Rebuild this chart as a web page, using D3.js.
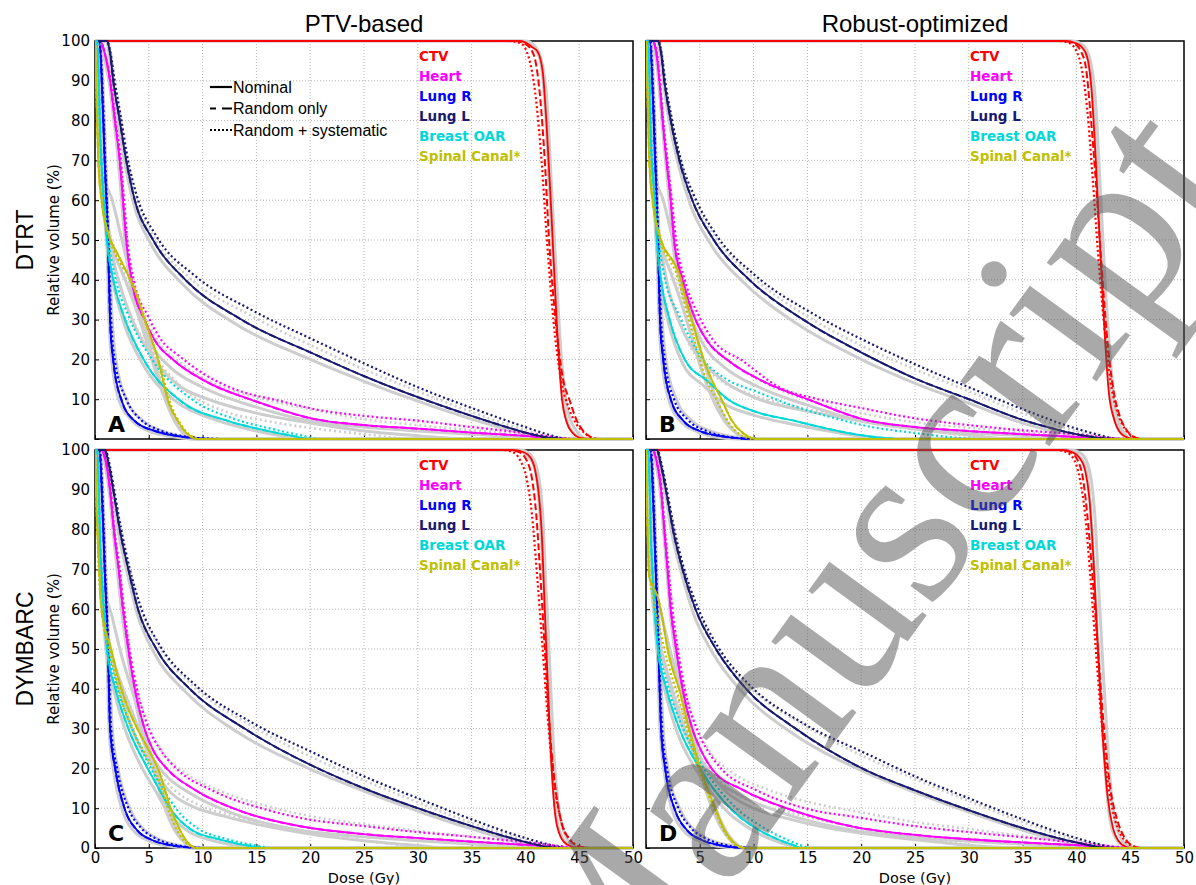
<!DOCTYPE html>
<meta charset="utf-8">
<style>
body { margin: 0; background: #fff; }
text { font-family: "DejaVu Sans", sans-serif; }
.grid line { stroke: #b4b4b4; stroke-dasharray: 1,2; }
.axis path { display: none; }
.axis line { stroke: #000; }
.axis text { font-size: 15px; fill: #000; }
</style>
<svg width="1196" height="885"></svg>
<script src="https://d3js.org/d3.v7.min.js"></script>
<script>

var structures = ["CTV", "Heart", "Lung R", "Lung L", "Breast OAR", "Spinal Canal*"];
var structColors = ["#ff0000", "#ff00ff", "#0000ff", "#191970", "#00d8d8", "#c0c000"];
var xTicks = [0, 5, 10, 15, 20, 25, 30, 35, 40, 45, 50];
var yTicks = [0, 10, 20, 30, 40, 50, 60, 70, 80, 90, 100];
var scenarioLabels = ["Nominal", "Random only", "Random + systematic"];
var colTitles = ["PTV-based", "Robust-optimized"];
var rowTitles = ["DTRT", "DYMBARC"];
var panelLetters = ["A", "B", "C", "D"];

// rows: [structure, kind, [[dose, volume], ...]]
// kind: nom = nominal, rnd = random only, sys = random + systematic, g / gd = scenario (grey)
var dvhA = [
  ["CTV", "nom", [[0,100],[39.5,100],[40.1,99.5],[40.6,98.5],[41.1,97.5],[41.6,92.5],[42.0,77.5],[42.4,57.5],[42.9,30],[43.4,10],[43.8,4.5],[44.4,1.5],[45.2,0.2],[46,0]]],
  ["CTV", "rnd", [[0,100],[39,100],[39.8,99.5],[40.5,98],[41.0,94],[41.4,85],[41.8,70],[42.2,50],[42.8,30],[43.5,15],[44.1,9.8],[44.8,4.5],[45.3,2.3],[46.2,0.4],[47,0]]],
  ["CTV", "sys", [[0,100],[38.5,100],[39.5,99.5],[40.1,97.5],[40.6,92.5],[41.0,85],[41.5,70],[42.0,50],[42.6,30],[43.3,15],[44.0,8],[44.8,3.5],[45.5,1.5],[46.5,0]]],
  ["CTV", "g", [[0,100],[39.5,100],[40.5,99],[41.3,96],[41.8,85],[42.2,65],[42.6,45],[43.1,22],[43.6,8],[44.3,2],[45.5,0]]],
  ["CTV", "g", [[0,100],[40,100],[40.8,99],[41.5,95],[42,85],[42.4,65],[42.8,45],[43.3,22],[43.8,9],[44.5,3],[45.8,0]]],
  ["Heart", "nom", [[0,100],[0.5,100],[0.9,97],[1.4,90],[1.85,80],[2.3,70],[2.6,60],[2.9,50],[3.4,40],[4.6,30],[5.6,24.6],[7.4,19.6],[10.2,14.6],[14.9,9.5],[20.4,5],[25,3.5],[30,2.6],[35,1.6],[40,0.8],[44,0]]],
  ["Heart", "sys", [[0,100],[0.5,100],[0.9,97],[1.45,90],[1.9,80],[2.4,70],[2.7,60],[3.0,50],[3.6,40],[4.9,31],[6.0,25.5],[8,20.5],[10.2,16.2],[13,12.5],[17.3,9.5],[20.4,7.5],[25,5.8],[30,4.6],[35,3],[40,1.5],[45,0]]],
  ["Heart", "g", [[0,100],[0.5,100],[0.85,96],[1.35,89],[1.8,79],[2.2,69],[2.5,59],[2.8,49],[3.3,39],[4.4,29],[5.4,23],[7,18],[10,13],[15,8],[20,4.5],[25,3],[30,2],[35,1.2],[40,0.5],[43,0]]],
  ["Heart", "gd", [[0,100],[0.5,100],[0.9,97],[1.45,90],[1.9,80],[2.4,70],[2.7,60],[3.0,50],[3.5,40],[4.8,30],[6,24],[8,19],[11,14],[15,10.5],[20,7.5],[25,5],[30,3.5],[35,2.2],[40,1],[45,0]]],
  ["Lung R", "nom", [[0,100],[0.4,100],[0.7,85],[0.9,70],[1.2,50],[1.4,30],[1.7,19.6],[2.5,9.5],[3.7,4.5],[5.6,2],[7.5,0.8],[9.3,0.2],[11,0]]],
  ["Lung R", "sys", [[0,100],[0.4,100],[0.75,85],[0.95,70],[1.25,50],[1.5,30],[1.85,19.6],[2.9,10],[4.2,5],[6,2.2],[8,0.8],[10,0.2],[12,0]]],
  ["Lung R", "g", [[0,100],[0.35,100],[0.65,85],[0.85,70],[1.1,50],[1.3,30],[1.55,20],[2.2,10],[3.3,5],[5,2],[7,0.7],[9,0]]],
  ["Lung R", "g", [[0,100],[0.45,100],[0.8,85],[1,70],[1.3,50],[1.6,30],[2,19],[3,9.5],[4.5,4.5],[6.5,1.8],[8.5,0.5],[10.5,0]]],
  ["Lung L", "nom", [[0,100],[1.1,100],[1.4,97],[1.7,90],[2.3,80],[2.9,70],[3.7,60],[5.4,50],[8.4,40],[13.6,30],[20.4,21.3],[25,15.8],[30,10.5],[35,5.8],[38,3.2],[40,1.6],[42,0.4],[44,0]]],
  ["Lung L", "sys", [[0,100],[1.1,100],[1.45,97],[1.8,90.5],[2.4,81],[3.0,71],[3.9,61],[5.7,51],[9.3,41],[14.5,32.5],[20.4,24.8],[25,19],[30,13],[35,7.8],[40,3],[42,1.2],[44,0]]],
  ["Lung L", "g", [[0,100],[1,100],[1.35,96],[1.65,89],[2.2,79],[2.8,69],[3.6,59],[5.2,49],[8.1,39],[13,29],[20,20],[25,14.5],[30,9.5],[35,5],[40,1.2],[42,0]]],
  ["Lung L", "gd", [[0,100],[1.1,100],[1.5,96.5],[1.8,90],[2.4,80.5],[3,70.5],[3.8,60.5],[5.5,50.5],[8.8,40.5],[14.5,31],[20.5,23],[25,17.5],[30,12],[35,6.8],[40,2.2],[43,0]]],
  ["Breast OAR", "nom", [[0,100],[0.2,100],[0.5,75],[0.8,60],[1.1,50],[1.7,40],[2.8,30],[4.6,19.6],[8.0,9.5],[12.4,4.5],[16.1,2],[18.5,0.7],[20,0]]],
  ["Breast OAR", "sys", [[0,100],[0.2,100],[0.5,76],[0.85,61],[1.2,51],[1.85,41],[3.1,31],[5.3,20],[9,10],[13,5],[16.5,2.5],[19,1],[21,0]]],
  ["Breast OAR", "g", [[0,100],[0.2,100],[0.5,74],[0.8,59],[1.1,49],[1.7,39],[2.7,29],[4.4,19],[7.5,9.5],[11,5],[15,2],[18,0.5],[19.5,0]]],
  ["Breast OAR", "g", [[0,100],[0.25,100],[0.6,74],[1,60],[1.5,48],[2.4,38],[3.6,29],[5.5,20],[8,13],[10,10.5],[15,6.5],[20,4],[25,2],[30,0.8],[35,0]]],
  ["Breast OAR", "gd", [[0,100],[0.25,100],[0.6,75],[1,60],[1.5,49],[2.3,39],[3.5,30],[5.5,21],[8.5,12],[12,7],[16,4.5],[20,2.8],[25,1.2],[30,0]]],
  ["Spinal Canal*", "nom", [[0,100],[0.15,85],[0.3,70],[0.6,60],[1.2,52],[2.2,46],[3.1,41],[3.9,36],[4.6,30],[5.9,19.6],[6.8,9.5],[7.7,4.5],[8.4,1.8],[9,0.4],[9.5,0]]],
  ["Spinal Canal*", "sys", [[0,100],[0.15,86],[0.35,70],[0.7,59],[1.4,50],[2.4,44],[3.4,40],[4.2,34],[4.9,28],[6.1,18],[7,9],[7.9,4],[8.6,1.5],[9.3,0.3],[9.8,0]]],
  ["Spinal Canal*", "g", [[0,100],[0.3,100],[0.6,80],[0.9,66],[1.6,60],[2.5,50],[3.2,42],[4,33],[5,24],[6,15],[7,7],[8,2],[9,0]]],
  ["Spinal Canal*", "g", [[0,100],[0.2,90],[0.4,72],[0.8,58],[1.5,49],[2.5,42],[3.5,35],[4.5,27],[5.5,18],[6.5,10],[7.5,4],[8.5,1],[9.5,0]]],
  ["Spinal Canal*", "gd", [[0,100],[0.2,88],[0.4,70],[0.9,58],[1.8,48],[2.8,41],[3.6,36],[4.5,29],[5.5,21],[6.5,12],[7.5,5],[8.5,1.5],[9.5,0]]]
];

var dvhB = [
  ["CTV", "nom", [[0,100],[39,100],[39.9,99.5],[40.5,98.5],[41,96],[41.4,88],[41.8,70],[42.2,48],[42.6,28],[43,12],[43.5,5],[44.1,1.5],[44.8,0.3],[45.5,0]]],
  ["CTV", "rnd", [[0,100],[38.8,100],[39.7,99.5],[40.4,97.5],[40.9,93],[41.3,82],[41.8,65],[42.3,45],[42.8,27],[43.4,13],[44,6],[44.6,2.5],[45.3,0.6],[46.2,0]]],
  ["CTV", "sys", [[0,100],[38.3,100],[39.3,99.5],[40,97.5],[40.5,93],[41,83],[41.5,66],[42,47],[42.6,28],[43.2,14],[43.9,6],[44.6,2.2],[45.3,0.6],[46,0]]],
  ["CTV", "g", [[0,100],[39.3,100],[40.3,99],[41,96],[41.5,87],[41.9,68],[42.3,46],[42.7,26],[43.2,10],[43.8,3],[44.6,0.5],[45.3,0]]],
  ["CTV", "g", [[0,100],[39.6,100],[40.6,99],[41.3,95],[41.8,84],[42.2,64],[42.6,43],[43.1,22],[43.6,8],[44.3,2],[45.3,0]]],
  ["Heart", "nom", [[0,100],[0.6,100],[0.9,98],[1.25,90],[1.55,80],[1.9,70],[2.3,60],[2.6,50],[3.4,40],[4.6,30],[5.7,24.6],[7.7,19.6],[10.8,14.6],[15.5,9.5],[20.1,5],[25,3],[30,2],[35,1.2],[40,0.5],[44,0]]],
  ["Heart", "sys", [[0,100],[0.6,100],[0.95,98],[1.3,90],[1.6,80],[2,70],[2.4,60],[2.8,50],[3.6,40],[4.9,31],[6.2,25],[9,19.6],[12.4,13],[16,10],[19.8,7.9],[25,5.2],[30,3.5],[35,2.2],[40,1.2],[45,0]]],
  ["Heart", "g", [[0,100],[0.55,100],[0.85,97],[1.2,89],[1.5,79],[1.85,69],[2.2,59],[2.5,49],[3.2,39],[4.4,29],[5.5,23],[7.3,18],[10.5,13],[15,8.5],[20,4.5],[25,2.6],[30,1.6],[35,0.9],[40,0.3],[43,0]]],
  ["Heart", "gd", [[0,100],[0.6,100],[0.95,97.5],[1.3,89.5],[1.6,79.5],[2,69.5],[2.4,59.5],[2.7,49.5],[3.5,39.5],[4.8,30],[6,24],[8.3,18.5],[11.5,13.5],[16,9],[20,6.5],[25,4.2],[30,2.8],[35,1.7],[40,0.8],[44,0]]],
  ["Lung R", "nom", [[0,100],[0.35,100],[0.65,85],[0.85,70],[1.1,50],[1.3,30],[1.6,20],[2.3,10],[3.5,4.5],[5,2],[7,0.7],[9,0.1],[10,0]]],
  ["Lung R", "sys", [[0,100],[0.4,100],[0.7,85],[0.9,70],[1.15,50],[1.4,30],[1.75,20],[2.6,10],[3.9,4.8],[5.6,2],[7.5,0.6],[9.5,0.1],[10.5,0]]],
  ["Lung R", "g", [[0,100],[0.3,100],[0.6,85],[0.8,70],[1.0,50],[1.2,30],[1.45,20],[2.1,10],[3.2,4.5],[4.8,1.8],[6.5,0.5],[8.5,0]]],
  ["Lung R", "g", [[0,100],[0.45,100],[0.75,85],[0.95,70],[1.2,50],[1.5,30],[1.9,19],[2.9,9.5],[4.3,4.5],[6.2,1.8],[8.2,0.5],[10,0]]],
  ["Lung L", "nom", [[0,100],[1.1,100],[1.4,97],[1.7,90],[2.3,80],[3.1,70],[4.3,60],[6.3,50],[9.6,40],[14.6,30],[20.4,21.2],[25,15.2],[30,10],[35,4.8],[38,2.5],[40,1.2],[42,0.3],[44,0]]],
  ["Lung L", "sys", [[0,100],[1.15,100],[1.45,97],[1.75,90.5],[2.4,80.5],[3.2,70.5],[4.5,61],[6.6,51],[10.2,41],[15.5,31.5],[20.4,24.6],[25,18.8],[30,13],[35,7.5],[40,2.6],[42,1.1],[44,0]]],
  ["Lung L", "g", [[0,100],[1,100],[1.35,96],[1.65,89],[2.2,79],[3,69],[4.1,59],[6,49],[9.2,39],[14,29],[20,20],[25,14],[30,9],[35,4],[40,0.8],[42,0]]],
  ["Lung L", "gd", [[0,100],[1.1,100],[1.5,96.5],[1.8,90],[2.4,80],[3.2,70],[4.4,60.5],[6.5,50.5],[10,40.5],[15.2,30.5],[20.4,23],[25,17.5],[30,12],[35,6.5],[40,2],[43,0]]],
  ["Breast OAR", "nom", [[0,100],[0.2,100],[0.45,75],[0.8,60],[1.0,50],[1.4,40],[2.2,30],[3.6,20],[5.7,14.6],[7.7,9.8],[10,7],[13.9,4.5],[17,2.5],[19.2,1.3],[22,0.3],[24,0]]],
  ["Breast OAR", "sys", [[0,100],[0.2,100],[0.5,76],[0.85,61],[1.15,51],[1.7,41],[3.1,31],[5.3,20],[7.5,15],[10.2,12],[13.5,8.5],[17.3,5.4],[21,3],[25,1.5],[29,0.3],[31,0]]],
  ["Breast OAR", "g", [[0,100],[0.2,100],[0.45,74],[0.75,59],[0.95,49],[1.35,39],[2.1,29],[3.4,19],[5.3,13.5],[7.2,9],[10,6],[14,3.5],[18,1.5],[21,0.3],[22.5,0]]],
  ["Breast OAR", "g", [[0,100],[0.25,100],[0.55,75],[0.95,60],[1.3,50],[1.9,40],[3,30],[4.8,21],[7,15],[10,10.5],[15,7],[20,4.5],[25,2.5],[30,1],[34,0]]],
  ["Breast OAR", "gd", [[0,100],[0.25,100],[0.55,76],[0.9,61],[1.25,51],[1.8,41],[2.9,31],[4.6,21],[6.8,15],[10,11],[15,7.5],[20,4.8],[25,2.5],[30,0.8],[33,0]]],
  ["Spinal Canal*", "nom", [[0,100],[0.15,85],[0.3,70],[0.6,60],[1.4,50],[2.5,44.7],[3.1,41.4],[3.6,36.3],[4.3,29.6],[5.4,19.6],[7.1,9.5],[8,4.5],[9,1.5],[9.6,0.5],[10.2,0]]],
  ["Spinal Canal*", "sys", [[0,100],[0.15,86],[0.35,70],[0.7,59],[1.3,50],[2.2,45],[2.9,41],[3.5,35],[4.2,28],[5.2,18],[6.7,9],[7.7,4],[8.7,1.2],[9.5,0.2],[10,0]]],
  ["Spinal Canal*", "g", [[0,100],[0.3,100],[0.6,80],[0.9,66],[1.6,60],[2.5,50],[3.2,42],[4,33],[5,23],[6,14],[7,7],[8,2.5],[9,0.5],[10,0]]],
  ["Spinal Canal*", "g", [[0,100],[0.2,90],[0.4,72],[0.8,58],[1.5,48],[2.4,41],[3.3,34],[4.2,26],[5.2,17],[6.2,10],[7.3,4.5],[8.5,1.2],[9.5,0]]],
  ["Spinal Canal*", "gd", [[0,100],[0.2,88],[0.4,71],[0.9,57],[1.7,47],[2.7,40],[3.5,34],[4.4,27],[5.4,19],[6.4,11],[7.5,5],[8.5,1.5],[9.8,0]]]
];

var dvhC = [
  ["CTV", "nom", [[0,100],[38.8,100],[39.8,99.5],[40.5,98],[40.9,95],[41.2,90],[41.5,80],[41.8,60],[42.1,40],[42.4,22],[42.7,10],[43.1,4],[43.8,1],[45,0]]],
  ["CTV", "rnd", [[0,100],[38.5,100],[39.4,99.5],[40.1,97.5],[40.6,93],[41,84],[41.4,68],[41.8,50],[42.2,32],[42.7,17],[43.3,7],[44,2.5],[44.8,0.6],[45.8,0]]],
  ["CTV", "sys", [[0,100],[37.8,100],[38.8,99.5],[39.5,97.5],[40.1,93],[40.6,84],[41.1,68],[41.6,50],[42.1,32],[42.7,16],[43.4,6],[44.2,2],[45,0.4],[46,0]]],
  ["CTV", "g", [[0,100],[39,100],[40,99],[40.8,96],[41.3,86],[41.7,66],[42,46],[42.3,27],[42.7,12],[43.2,4],[44,0.8],[45,0]]],
  ["CTV", "g", [[0,100],[39.5,100],[40.4,99],[41.1,95],[41.6,84],[41.9,66],[42.3,44],[42.6,26],[43,12],[43.6,4],[44.5,0.5],[45.5,0]]],
  ["Heart", "nom", [[0,100],[0.6,100],[1,97],[1.4,90],[1.75,80],[2.2,70],[2.6,60],[3.1,50],[3.7,40],[4.6,30],[5.4,24.6],[6.8,19.6],[9.3,14.6],[13.3,9.5],[19.2,5.4],[25,3.5],[30,2.5],[35,1.6],[40,0.8],[45,0]]],
  ["Heart", "sys", [[0,100],[0.6,100],[1.05,97],[1.45,90],[1.8,80],[2.3,70],[2.7,60],[3.2,50],[3.9,40],[5,30],[6,25],[7.7,19.6],[10.8,14.6],[16.1,9.5],[19.2,7.5],[25,5.5],[30,4],[35,2.8],[40,1.5],[46,0]]],
  ["Heart", "g", [[0,100],[0.55,100],[0.95,96],[1.35,89],[1.7,79],[2.1,69],[2.5,59],[3,49],[3.6,39],[4.4,29],[5.2,23.5],[6.5,18.5],[9,13.5],[13,8.5],[19,4.5],[25,2.8],[30,1.8],[35,1],[40,0.4],[44,0]]],
  ["Heart", "gd", [[0,100],[0.6,100],[1.05,97],[1.45,90],[1.8,80],[2.3,70],[2.7,60],[3.2,50],[3.9,40],[5.1,30],[6.3,24],[8.3,19],[11.5,14.5],[16,10.5],[20,8],[25,6],[30,4.3],[35,2.8],[40,1.3],[46,0]]],
  ["Lung R", "nom", [[0,100],[0.4,100],[0.7,85],[0.9,70],[1.2,50],[1.4,30],[1.9,19.6],[2.8,9.5],[3.9,4.5],[5.3,2],[7,0.7],[8.5,0.2],[10,0]]],
  ["Lung R", "sys", [[0,100],[0.45,100],[0.75,85],[0.95,70],[1.25,50],[1.5,30],[2.05,20],[3.1,10],[4.3,5],[5.8,2.2],[7.6,0.7],[9.2,0.1],[10.5,0]]],
  ["Lung R", "g", [[0,100],[0.35,100],[0.65,85],[0.85,70],[1.1,50],[1.3,30],[1.75,19],[2.6,9],[3.6,4.3],[5,1.8],[6.5,0.6],[8.5,0]]],
  ["Lung R", "g", [[0,100],[0.45,100],[0.8,85],[1,70],[1.3,50],[1.6,30],[2.2,19],[3.3,9.5],[4.6,4.5],[6.3,1.8],[8.2,0.5],[10,0]]],
  ["Lung L", "nom", [[0,100],[0.9,100],[1.3,96],[1.7,90],[2.3,80],[3.1,70],[4.0,60],[5.7,50],[8.8,40],[13.9,30],[20.4,20.4],[25,15],[30,10],[35,5.5],[38,3],[40,1.5],[42,0.3],[43,0]]],
  ["Lung L", "sys", [[0,100],[0.95,100],[1.35,96.5],[1.75,90.5],[2.4,80.5],[3.2,70.5],[4.2,61],[6,51],[9.3,41],[14.6,31.5],[20.4,23.8],[25,18],[30,12.5],[35,7.2],[40,2.5],[42,1],[44,0]]],
  ["Lung L", "g", [[0,100],[0.85,100],[1.25,95],[1.65,89],[2.2,79],[3,69],[3.9,59],[5.5,49],[8.5,39],[13.3,29],[20,19.8],[25,14.3],[30,9.3],[35,4.8],[40,1],[42,0]]],
  ["Lung L", "gd", [[0,100],[0.95,100],[1.35,96],[1.75,90],[2.4,80],[3.2,70],[4.2,60.5],[6,50.5],[9.2,40.5],[14.5,30.8],[20.4,22.5],[25,17],[30,11.5],[35,6.3],[40,2],[43,0]]],
  ["Breast OAR", "nom", [[0,100],[0.2,100],[0.5,75],[0.8,60],[1.1,50],[1.9,40],[3.1,30],[4.9,20],[6,14.6],[7.1,9.5],[9,4.5],[11.8,2],[14.9,0.3],[16,0]]],
  ["Breast OAR", "sys", [[0,100],[0.2,100],[0.5,76],[0.85,61],[1.2,51],[2,41],[3.3,31],[5.2,20],[6.3,15],[7.5,10],[9.5,5],[12.3,2.2],[15.3,0.5],[16.5,0]]],
  ["Breast OAR", "g", [[0,100],[0.2,100],[0.5,74],[0.75,59],[1.05,49],[1.8,39],[2.9,29],[4.6,19],[5.7,14],[6.8,9],[8.6,4.3],[11,1.8],[14,0.3],[15,0]]],
  ["Breast OAR", "g", [[0,100],[0.25,100],[0.6,74],[1,59],[1.5,49],[2.4,39],[3.6,29],[5.2,21],[7,14],[9,10.5],[12,8],[15,6],[20,3.5],[25,1.8],[30,0.6],[33,0]]],
  ["Breast OAR", "gd", [[0,100],[0.25,100],[0.6,75],[1,60],[1.4,50],[2.3,40],[3.5,30],[5.4,21],[7.2,15],[9.5,11],[13,8],[17,5.5],[22,3],[27,1.2],[32,0]]],
  ["Spinal Canal*", "nom", [[0,100],[0.15,85],[0.4,70],[0.6,60],[1.5,50],[2.3,41.4],[2.9,36.3],[4.0,29.6],[5.0,24.6],[5.9,19.6],[7.1,9.5],[7.9,4.5],[8.5,1.8],[9,0.4],[9.4,0]]],
  ["Spinal Canal*", "sys", [[0,100],[0.15,86],[0.35,70],[0.65,59],[1.4,49],[2.1,41],[2.7,35],[3.8,28],[4.8,23],[5.8,18],[6.9,9],[7.7,4],[8.4,1.4],[9,0.2],[9.4,0]]],
  ["Spinal Canal*", "g", [[0,100],[0.3,100],[0.6,80],[0.9,66],[1.6,58],[2.5,48],[3.4,40],[4.4,31],[5.4,22],[6.3,14],[7.2,7],[8.1,2.2],[9,0]]],
  ["Spinal Canal*", "g", [[0,100],[0.2,90],[0.4,72],[0.8,57],[1.6,48],[2.6,40],[3.6,33],[4.6,26],[5.6,18],[6.5,10],[7.5,4],[8.5,1],[9.5,0]]],
  ["Spinal Canal*", "gd", [[0,100],[0.2,88],[0.4,70],[0.9,56],[1.8,46],[2.8,39],[3.8,32],[4.8,25],[5.8,17],[6.8,9],[7.8,3.5],[8.8,0.8],[9.8,0]]]
];

var dvhD = [
  ["CTV", "nom", [[0,100],[38.8,100],[39.6,99.5],[40.3,98],[40.8,95],[41.2,88],[41.6,72],[42,50],[42.4,30],[42.9,13],[43.4,5],[43.9,1.8],[44.6,0.3],[45.2,0]]],
  ["CTV", "rnd", [[0,100],[38.5,100],[39.4,99.5],[40.1,97.5],[40.6,93],[41,84],[41.5,68],[42,50],[42.5,32],[43.1,16],[43.8,7],[44.5,2.5],[45.2,0.6],[46,0]]],
  ["CTV", "sys", [[0,100],[38,100],[39,99.5],[39.8,97.5],[40.3,93],[40.8,84],[41.3,68],[41.8,50],[42.3,33],[42.9,17],[43.6,7],[44.4,2.2],[45.2,0.5],[46,0]]],
  ["CTV", "g", [[0,100],[39,100],[40,99],[40.8,96],[41.3,86],[41.7,66],[42.1,46],[42.5,27],[42.9,12],[43.4,4],[44.2,0.8],[45.2,0]]],
  ["CTV", "g", [[0,100],[39.5,100],[40.5,99],[41.2,95],[41.7,84],[42.1,64],[42.5,44],[42.9,26],[43.3,12],[43.9,4],[44.8,0.5],[45.8,0]]],
  ["Heart", "nom", [[0,100],[0.6,100],[1,97],[1.4,90],[1.7,80],[2.0,70],[2.3,60],[2.8,50],[3.4,40],[4.3,30],[5.1,24.6],[6.2,19.6],[9.0,14.6],[13.6,9.5],[19.2,5.4],[25,3.3],[30,2.2],[35,1.4],[40,0.7],[45,0]]],
  ["Heart", "sys", [[0,100],[0.6,100],[1.05,97],[1.45,90],[1.75,80],[2.1,70],[2.45,60],[2.95,50],[3.6,40],[4.7,30],[5.7,24.6],[7.1,19.6],[10.2,14.6],[15.5,9.5],[19.2,7.9],[25,5.5],[30,4],[35,2.7],[40,1.4],[46,0]]],
  ["Heart", "g", [[0,100],[0.55,100],[0.95,96],[1.35,89],[1.65,79],[1.95,69],[2.25,59],[2.7,49],[3.3,39],[4.1,29],[4.9,23.5],[6,18.5],[8.6,13.5],[13,8.5],[19,4.6],[25,2.7],[30,1.7],[35,1],[40,0.4],[44,0]]],
  ["Heart", "gd", [[0,100],[0.6,100],[1.05,97],[1.45,90],[1.75,80],[2.1,70],[2.45,60],[2.95,50],[3.6,40],[4.8,30],[6,24],[8,19],[11.5,14.5],[16,11],[20,9],[25,6.5],[30,4.8],[35,3],[40,1.5],[46,0]]],
  ["Lung R", "nom", [[0,100],[0.4,100],[0.7,85],[0.9,70],[1.15,50],[1.4,30],[1.8,19.6],[2.7,9.5],[3.8,4.5],[5.2,2],[7,0.6],[8.5,0.1],[10,0]]],
  ["Lung R", "sys", [[0,100],[0.45,100],[0.75,85],[0.95,70],[1.2,50],[1.5,30],[1.95,20],[3,10],[4.2,5],[5.7,2.2],[7.5,0.7],[9,0.1],[10.5,0]]],
  ["Lung R", "g", [[0,100],[0.35,100],[0.65,85],[0.85,70],[1.05,50],[1.3,30],[1.7,19],[2.5,9],[3.5,4.3],[4.9,1.8],[6.5,0.5],[8.5,0]]],
  ["Lung R", "g", [[0,100],[0.45,100],[0.8,85],[1,70],[1.3,50],[1.6,30],[2.1,19],[3.2,9.5],[4.5,4.5],[6.2,1.8],[8.2,0.5],[10,0]]],
  ["Lung L", "nom", [[0,100],[1.0,100],[1.4,96],[1.85,90],[2.5,80],[3.4,70],[4.6,60],[6.5,50],[9.3,40],[13.9,30],[20.4,19.6],[25,14.5],[30,9.5],[35,5],[38,2.7],[40,1.4],[42,0.3],[43,0]]],
  ["Lung L", "sys", [[0,100],[1.05,100],[1.45,96.5],[1.9,90.5],[2.6,80.5],[3.5,70.5],[4.8,60.5],[6.7,50.5],[9.6,41],[14.5,31.5],[20.4,23.8],[25,18],[30,12.5],[35,7.2],[40,2.5],[42,1],[44,0]]],
  ["Lung L", "g", [[0,100],[0.95,100],[1.35,95],[1.8,89],[2.4,79],[3.3,69],[4.4,59],[6.2,49],[9,39],[13.5,29],[20,19.5],[25,14],[30,9],[35,4.5],[40,0.9],[42,0]]],
  ["Lung L", "gd", [[0,100],[1.05,100],[1.45,96],[1.9,90],[2.6,80],[3.5,70],[4.7,60],[6.6,50],[9.6,40.5],[14.6,31],[20.4,22.8],[25,17.3],[30,11.8],[35,6.5],[40,2],[43,0]]],
  ["Breast OAR", "nom", [[0,100],[0.2,100],[0.5,75],[0.8,60],[1.1,50],[1.9,40],[3.1,30],[5.1,19.6],[8.0,9.5],[10.5,4.5],[12.4,2],[13.6,0.8],[14.5,0]]],
  ["Breast OAR", "sys", [[0,100],[0.2,100],[0.5,76],[0.85,61],[1.2,51],[2,41],[3.3,31],[5.4,20],[8.4,10],[11,5],[13,2.2],[14.3,0.8],[15.3,0]]],
  ["Breast OAR", "g", [[0,100],[0.2,100],[0.5,74],[0.75,59],[1.05,49],[1.8,39],[2.9,29],[4.8,19],[7.6,9],[10,4.3],[12,1.8],[13.5,0.5],[14.5,0]]],
  ["Breast OAR", "g", [[0,100],[0.25,100],[0.6,74],[1,59],[1.5,49],[2.4,39],[3.6,29],[5.4,21],[7.5,14],[10,10],[13,7.5],[17,5],[22,3],[27,1.5],[32,0.3],[35,0]]],
  ["Breast OAR", "gd", [[0,100],[0.25,100],[0.6,75],[1,60],[1.4,50],[2.3,40],[3.5,30],[5.5,21],[7.6,15],[10,11.5],[14,8.5],[18,6],[23,3.5],[28,1.5],[33,0]]],
  ["Spinal Canal*", "nom", [[0,100],[0.1,85],[0.3,68],[0.6,66],[1.2,62],[1.7,54.8],[2.0,50],[2.5,44.7],[3.1,39.7],[4.0,30],[5.1,19.6],[6.5,9.5],[7.3,4.5],[8,1.8],[8.7,0.3],[9.2,0]]],
  ["Spinal Canal*", "sys", [[0,100],[0.1,86],[0.3,70],[0.7,62],[1.3,55],[1.7,50],[2.3,44],[2.9,39],[3.8,30],[4.9,20],[6.3,10],[7.1,5],[7.9,1.8],[8.6,0.3],[9.1,0]]],
  ["Spinal Canal*", "g", [[0,100],[0.2,90],[0.4,72],[0.8,58],[1.4,50],[2.2,42],[3.1,34],[4,27],[5,19],[6,11],[7,5],[8,1.5],[9,0]]],
  ["Spinal Canal*", "g", [[0,100],[0.3,100],[0.6,80],[0.9,66],[1.5,58],[2.4,48],[3.3,39],[4.2,30],[5.2,21],[6.2,12],[7.2,5.5],[8.2,1.5],[9.2,0]]],
  ["Spinal Canal*", "gd", [[0,100],[0.2,88],[0.4,70],[0.9,56],[1.7,47],[2.6,40],[3.5,33],[4.5,25],[5.5,17],[6.5,9],[7.5,3.5],[8.5,0.8],[9.5,0]]]
];

var panelData = [dvhA, dvhB, dvhC, dvhD];

var svg = d3.select("svg"),
    pw = 538, ph = 398,
    lefts = [95, 646], tops = [41, 450];

var x = d3.scaleLinear().domain([0, 50]).range([0, pw]),
    y = d3.scaleLinear().domain([0, 100]).range([ph, 0]);

var line = d3.line()
    .x(function(d) { return x(d[0]); })
    .y(function(d) { return y(d[1]); })
    .curve(d3.curveMonotoneX);

// append a point at the end of the dose axis so each curve runs along 0
function extend(pts) {
  var last = pts[pts.length - 1];
  return last[0] < x.domain()[1] ? pts.concat([[x.domain()[1], last[1]]]) : pts;
}

var styles = {
  g:   {stroke: "#cdcdcd", width: 3, dash: null},
  gd:  {stroke: "#cdcdcd", width: 2.6, dash: "2,3"},
  sys: {width: 2.2, dash: "2,2.6"},
  rnd: {width: 2, dash: "7,3"},
  nom: {width: 1.8, dash: null}
};

svg.append("defs").append("clipPath").attr("id", "clip")
  .append("rect").attr("x", 0).attr("y", -3).attr("width", pw + 1).attr("height", ph + 5);

panelData.forEach(function(rows, i) {
  var col = i % 2, row = Math.floor(i / 2);
  var g = svg.append("g").attr("transform", "translate(" + lefts[col] + "," + tops[row] + ")");

  // grid
  g.append("g").attr("class", "grid").selectAll("line.v")
    .data(xTicks.slice(1, -1)).enter().append("line")
      .attr("x1", function(d) { return x(d); }).attr("x2", function(d) { return x(d); })
      .attr("y1", 0).attr("y2", ph);
  g.append("g").attr("class", "grid").selectAll("line.h")
    .data(yTicks.slice(1, -1)).enter().append("line")
      .attr("y1", function(d) { return y(d); }).attr("y2", function(d) { return y(d); })
      .attr("x1", 0).attr("x2", pw);

  // axes (ticks inside)
  var yAxis = d3.axisLeft(y).tickValues(yTicks).tickSizeInner(-4).tickSizeOuter(0).tickPadding(5)
      .tickFormat(function(d) { return col === 0 && (row === 1 || d > 0) ? d : ""; });
  g.append("g").attr("class", "axis").call(yAxis);
  var xAxis = d3.axisBottom(x).tickValues(xTicks).tickSizeInner(-4).tickSizeOuter(0).tickPadding(4)
      .tickFormat(function(d) { return row === 1 && (col === 0 || d > 0) ? d : ""; });
  g.append("g").attr("class", "axis").attr("transform", "translate(0," + ph + ")").call(xAxis);

  g.append("rect").attr("width", pw).attr("height", ph)
    .attr("fill", "none").attr("stroke", "#000").attr("stroke-width", 1.5);

  var plot = g.append("g").attr("clip-path", "url(#clip)");

  // grey scenario curves first
  rows.filter(function(r) { return r[1] === "g" || r[1] === "gd"; }).forEach(function(r) {
    var s = styles[r[1]];
    plot.append("path").datum(extend(r[2]))
      .attr("fill", "none").attr("stroke", s.stroke).attr("stroke-width", s.width)
      .attr("stroke-dasharray", s.dash).attr("d", line);
  });

  structures.forEach(function(name, k) {
    var nom = rows.find(function(r) { return r[0] === name && r[1] === "nom"; });
    ["sys", "rnd", "nom"].forEach(function(kind) {
      var r = rows.find(function(r) { return r[0] === name && r[1] === kind; }) || nom;
      var s = styles[kind];
      plot.append("path").datum(extend(r[2]))
        .attr("fill", "none").attr("stroke", structColors[k]).attr("stroke-width", s.width)
        .attr("stroke-dasharray", s.dash).attr("d", line);
    });
  });

  // structure labels
  g.append("g").selectAll("text").data(structures).enter().append("text")
    .attr("x", 324).attr("y", function(d, k) { return 15 + k * 20; })
    .attr("dy", "0.35em")
    .style("font-size", "13.5px").style("font-weight", "bold")
    .attr("fill", function(d, k) { return structColors[k]; })
    .text(function(d) { return d; });

  g.append("text").attr("x", 13).attr("y", ph - 7)
    .style("font-size", "22px").style("font-weight", "bold")
    .text(panelLetters[i]);

  if (col === 0) {
    g.append("text").attr("transform", "translate(-36," + ph / 2 + ") rotate(-90)")
      .attr("text-anchor", "middle").style("font-size", "15px")
      .text("Relative volume (%)");
    g.append("text").attr("transform", "translate(-62," + ph / 2 + ") rotate(-90)")
      .attr("text-anchor", "middle").style("font-family", "Liberation Sans").style("font-size", "23px")
      .text(rowTitles[row]);
  }
  if (row === 0) {
    g.append("text").attr("x", pw / 2).attr("y", -9)
      .attr("text-anchor", "middle").style("font-family", "Liberation Sans").style("font-size", "24px")
      .text(colTitles[col]);
  } else {
    g.append("text").attr("x", pw / 2).attr("y", ph + 35)
      .attr("text-anchor", "middle").style("font-size", "14.5px")
      .text("Dose (Gy)");
  }

  // line style legend in the first panel
  if (i === 0) {
    var leg = g.append("g").attr("transform", "translate(115,46)");
    ["nom", "rnd", "sys"].forEach(function(kind, k) {
      leg.append("line").attr("x1", 0).attr("x2", 22).attr("y1", k * 21.5).attr("y2", k * 21.5)
        .attr("stroke", "#000").attr("stroke-width", 2.2)
        .attr("stroke-dasharray", kind === "rnd" ? "6,6,10" : kind === "sys" ? "2,2" : null);
      leg.append("text").attr("x", 23).attr("y", k * 21.5).attr("dy", "0.35em")
        .style("font-family", "Liberation Sans").style("font-size", "16px")
        .text(scenarioLabels[k]);
    });
  }
});

// watermark of the source document
svg.append("text")
  .attr("transform", "translate(600,1065) rotate(-54)")
  .style("font-family", "Liberation Serif").style("font-size", "240px")
  .attr("fill", "#555").attr("opacity", 0.5)
  .text("Manuscript");

</script>
